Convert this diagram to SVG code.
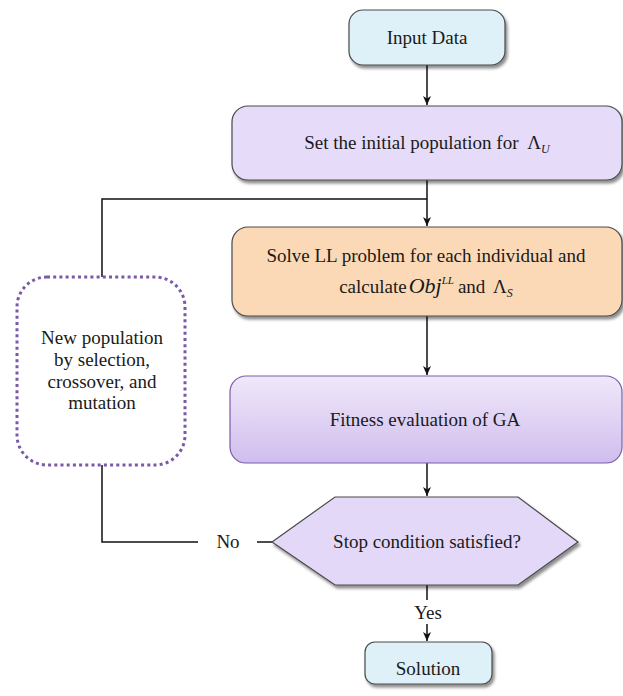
<svg xmlns="http://www.w3.org/2000/svg" width="623" height="696" viewBox="0 0 623 696" font-family="'Liberation Serif', 'DejaVu Serif', serif">
<defs>
<style>
.t{font-family:'Liberation Serif','DejaVu Serif',serif;font-size:19px;fill:#1a1a1a;text-anchor:middle}
.box{stroke:#4a4a4a;stroke-width:1.2}
.c{fill:none;stroke:#111;stroke-width:1.5}
</style>
<filter id="sh" x="-10%" y="-10%" width="130%" height="140%">
<feDropShadow dx="2" dy="3" stdDeviation="1.8" flood-color="#000" flood-opacity="0.45"/>
</filter>
<linearGradient id="fg" x1="0" y1="0" x2="0" y2="1">
<stop offset="0" stop-color="#f0e8fa"/>
<stop offset="1" stop-color="#d0bdee"/>
</linearGradient>
<marker id="ah" markerWidth="10" markerHeight="10" refX="9" refY="5" orient="auto" markerUnits="userSpaceOnUse">
<path d="M0,1 L9,5 L0,9 L2.5,5 Z" fill="#111"/>
</marker>
</defs>
<rect width="623" height="696" fill="#fff"/>

<g id="connectors">
<line class="c" x1="427" y1="65" x2="427" y2="105" marker-end="url(#ah)"/>
<line class="c" x1="427" y1="180" x2="427" y2="226" marker-end="url(#ah)"/>
<polyline class="c" points="102,277 102,199 427,199"/>
<line class="c" x1="427" y1="316" x2="427" y2="375" marker-end="url(#ah)"/>
<line class="c" x1="427" y1="463" x2="427" y2="496" marker-end="url(#ah)"/>
<polyline class="c" points="102,465 102,542 198,542"/>
<line class="c" x1="257" y1="542" x2="272" y2="542"/>
<line class="c" x1="427" y1="585" x2="427" y2="600"/>
<line class="c" x1="427" y1="624" x2="427" y2="641" marker-end="url(#ah)"/>
<text class="t" x="228" y="548">No</text>
<text class="t" x="428" y="619">Yes</text>
</g>

<g id="input">
<rect class="box" x="349" y="10" width="156" height="55" rx="14" fill="#def0f8" filter="url(#sh)"/>
<text class="t" x="427" y="44">Input Data</text>
</g>

<g id="init">
<rect class="box" x="232" y="106" width="390" height="74" rx="16" fill="#e6dcf9" filter="url(#sh)"/>
<text class="t" x="427" y="149">Set the initial population for <tspan dx="4">Λ</tspan><tspan font-style="italic" font-size="12" dy="4">U</tspan></text>
</g>

<g id="solve">
<rect class="box" x="232" y="227" width="390" height="89" rx="16" fill="#fcd9b6" filter="url(#sh)"/>
<text class="t" x="426" y="262">Solve LL problem for each individual and</text>
<text class="t" x="426" y="293">calculate<tspan font-style="italic" font-size="22" dx="2">Obj</tspan><tspan font-style="italic" font-size="11" dy="-9">LL</tspan><tspan dy="9" dx="4">and </tspan><tspan dx="3">Λ</tspan><tspan font-style="italic" font-size="12" dy="4">S</tspan></text>
</g>

<g id="fitness">
<rect x="230" y="376" width="392" height="87" rx="16" fill="url(#fg)" stroke="#7a5ea8" stroke-width="1.2"/>
<text class="t" x="425" y="426">Fitness evaluation of GA</text>
</g>

<g id="newpop">
<rect x="17" y="277" width="168" height="188" rx="30" fill="#fff" stroke="#7a5aa8" stroke-width="3" stroke-dasharray="3,3.2"/>
<text class="t" x="102" y="344">New population</text>
<text class="t" x="102" y="366">by selection,</text>
<text class="t" x="102" y="388">crossover, and</text>
<text class="t" x="102" y="409">mutation</text>
</g>

<g id="stop">
<polygon class="box" points="272,542 335,497 518,497 578,542 518,585 335,585" fill="#e3d8f8" filter="url(#sh)"/>
<text class="t" x="427" y="548">Stop condition satisfied?</text>
</g>

<g id="solution">
<rect class="box" x="365" y="642" width="127" height="42" rx="10" fill="#def0f8" filter="url(#sh)"/>
<text class="t" x="428" y="675">Solution</text>
</g>
</svg>
